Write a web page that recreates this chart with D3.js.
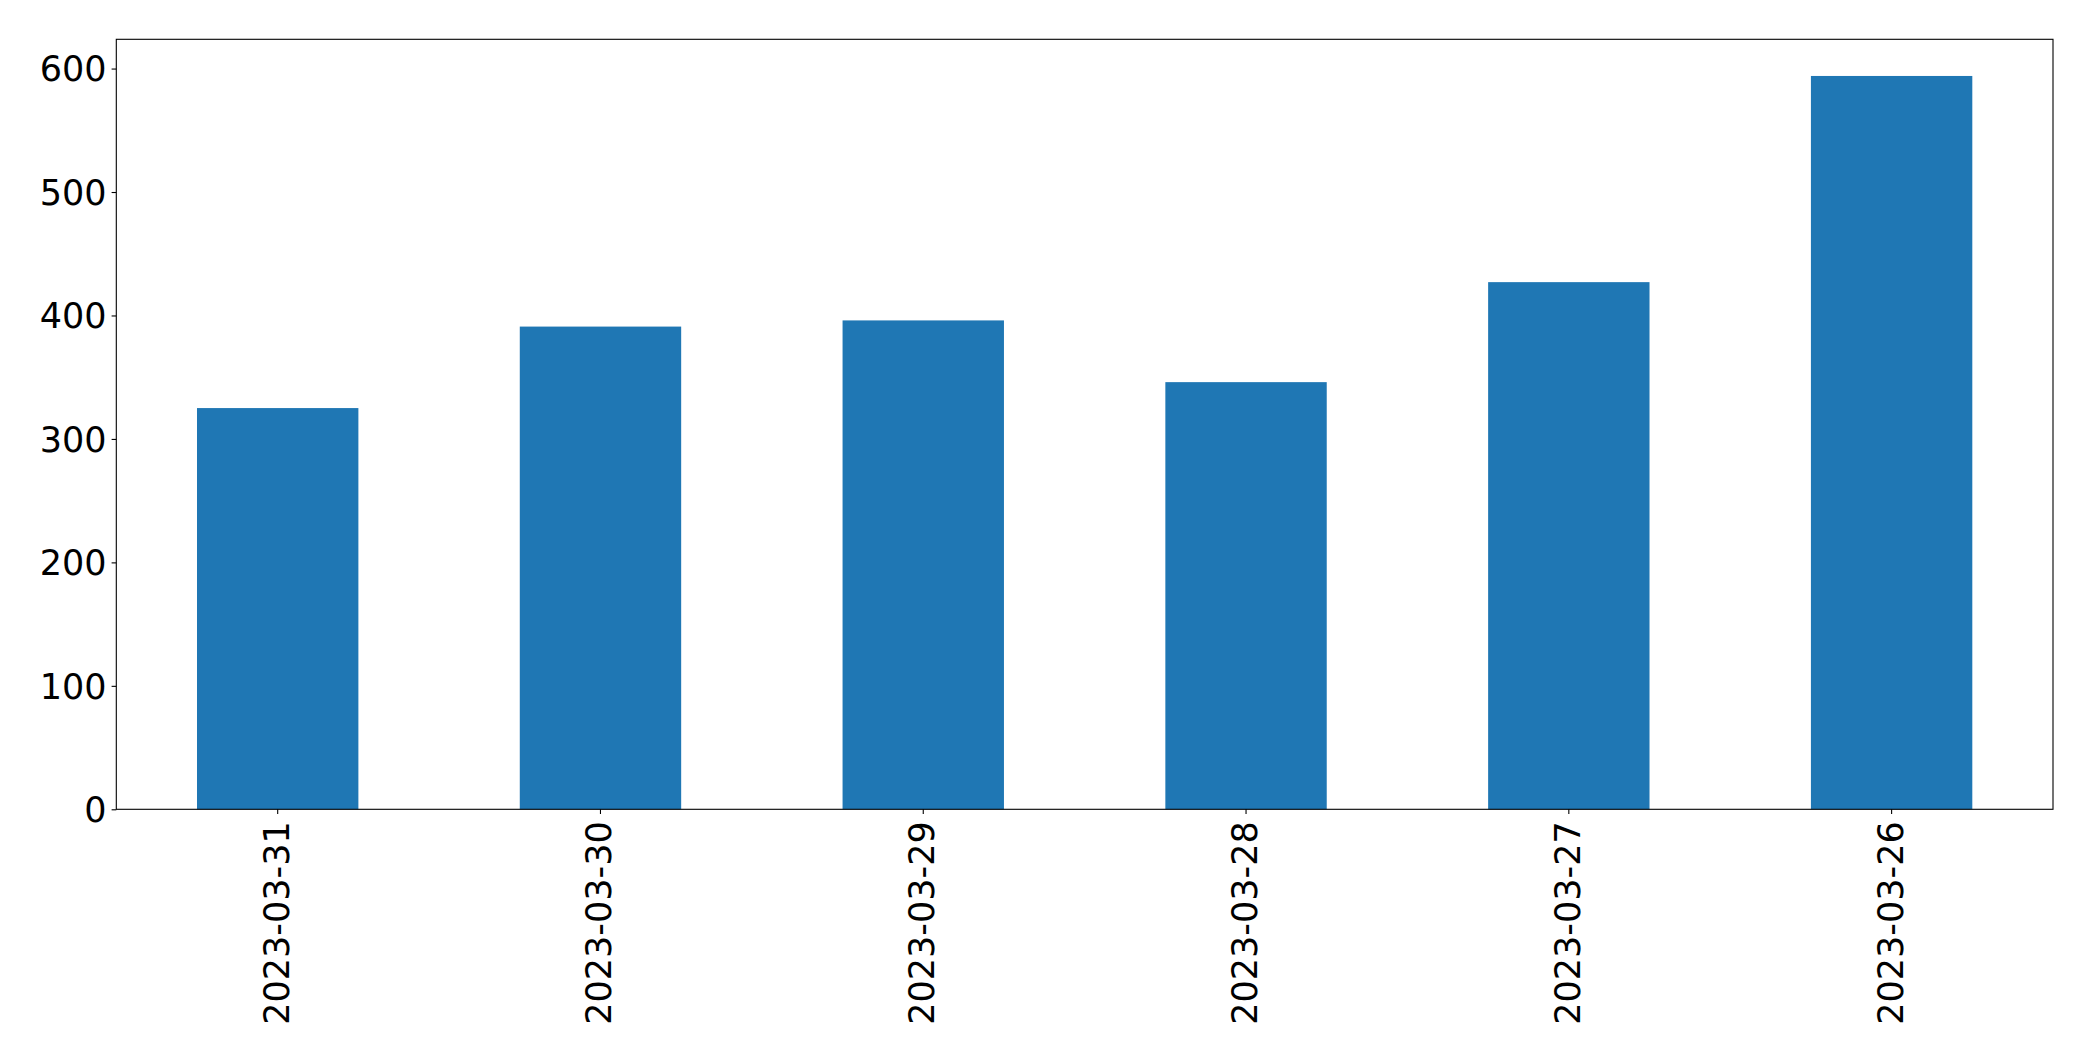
<!DOCTYPE html>
<html>
<head>
<meta charset="utf-8">
<script src="https://cdn.jsdelivr.net/npm/d3@7"></script>
<style>
  html, body { margin: 0; padding: 0; background: #fff; }
  svg { display: block; }
  text { font-family: "DejaVu Sans", sans-serif; fill: #000; }
</style>
</head>
<body>
<svg id="chart" width="2093" height="1061"></svg>
<script>
const categories = ["2023-03-31", "2023-03-30", "2023-03-29", "2023-03-28", "2023-03-27", "2023-03-26"];
const values = [325, 391, 396, 346, 427, 594];
const yTicks = [0, 100, 200, 300, 400, 500, 600];

const W = 2093, H = 1061;
const margin = { left: 116.3, right: 2093 - 2053, top: 39.3, bottom: 1061 - 809.3 };
const svg = d3.select("#chart");

const x = d3.scaleBand()
  .domain(categories)
  .range([margin.left, W - margin.right])
  .paddingInner(0.5)
  .paddingOuter(0.25);

const yMax = d3.max(values) * 1.05;
const y = d3.scaleLinear().domain([0, yMax]).range([H - margin.bottom, margin.top]);

svg.append("g")
  .selectAll("rect")
  .data(values)
  .join("rect")
  .attr("x", (d, i) => x(categories[i]))
  .attr("width", x.bandwidth())
  .attr("y", d => y(d))
  .attr("height", d => y(0) - y(d))
  .attr("fill", "#1f77b4");

const fontSize = "35px";

// Y axis
const yAxis = d3.axisLeft(y).tickValues(yTicks).tickSize(4.7).tickPadding(5);
const gy = svg.append("g").attr("transform", `translate(${margin.left},0)`).call(yAxis);
gy.select(".domain").remove();
gy.selectAll(".tick line").attr("stroke", "#000").attr("stroke-width", 1.1);
gy.selectAll(".tick text").style("font-size", fontSize).attr("dy", "0.35em").attr("font-family", "DejaVu Sans");

// X axis
const xAxis = d3.axisBottom(x).tickSize(4.7).tickPadding(5);
const gx = svg.append("g").attr("transform", `translate(0,${H - margin.bottom})`).call(xAxis);
gx.select(".domain").remove();
gx.selectAll(".tick line").attr("stroke", "#000").attr("stroke-width", 1.1);
gx.selectAll(".tick text")
  .style("font-size", fontSize)
  .attr("font-family", "DejaVu Sans")
  .attr("text-anchor", "end")
  .attr("dy", null)
  .attr("y", 0)
  .attr("dominant-baseline", "central")
  .attr("transform", "translate(-1,12) rotate(-90)");

// Frame
svg.append("rect")
  .attr("x", margin.left)
  .attr("y", margin.top)
  .attr("width", W - margin.right - margin.left)
  .attr("height", H - margin.bottom - margin.top)
  .attr("fill", "none")
  .attr("stroke", "#000")
  .attr("stroke-width", 1.1);
</script>
</body>
</html>
